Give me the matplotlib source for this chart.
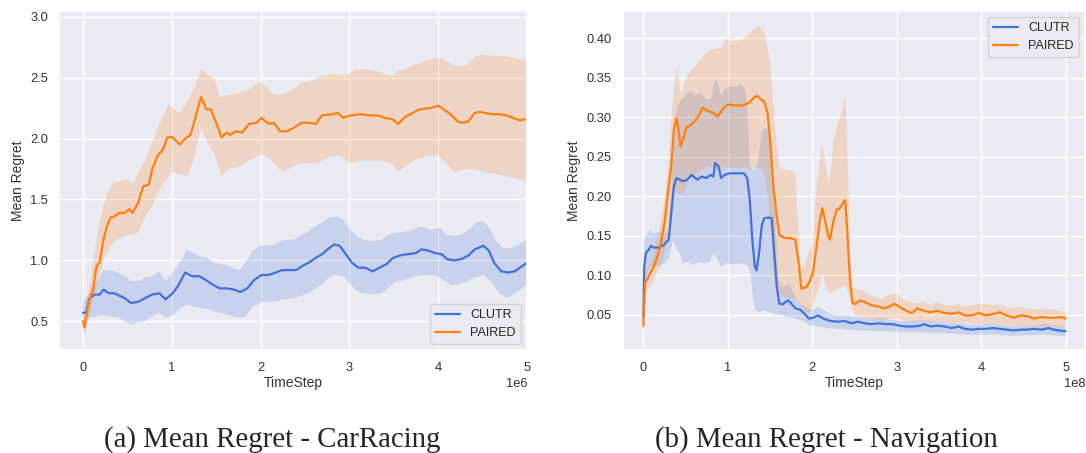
import matplotlib
matplotlib.use("Agg")
import matplotlib.pyplot as plt
import numpy as np
import seaborn as sns

# ---- (a) CarRacing, x in units of 1e6 ----
car_paired_x = [0, 0.016, 0.074, 0.113, 0.152, 0.19, 0.23, 0.27, 0.31, 0.35, 0.41, 0.47, 0.52, 0.56, 0.62, 0.68, 0.74, 0.78,
                0.84, 0.90, 0.95, 1.01, 1.09, 1.15, 1.21, 1.25, 1.29, 1.33, 1.39, 1.44, 1.50, 1.56, 1.62, 1.66, 1.72, 1.79,
                1.87, 1.95, 2.01, 2.09, 2.15, 2.22, 2.30, 2.38, 2.46, 2.54, 2.62, 2.69, 2.81, 2.87, 2.93, 3.01, 3.12, 3.24,
                3.32, 3.40, 3.48, 3.55, 3.63, 3.71, 3.79, 3.91, 4.00, 4.06, 4.14, 4.22, 4.28, 4.34, 4.41, 4.47, 4.53, 4.61,
                4.69, 4.77, 4.84, 4.92, 5.0]
car_paired_mean = [0.50, 0.45, 0.68, 0.76, 0.95, 0.99, 1.17, 1.28, 1.35, 1.36, 1.39, 1.39, 1.42, 1.39, 1.47, 1.61, 1.62, 1.75,
                   1.86, 1.91, 2.01, 2.01, 1.95, 2.00, 2.03, 2.13, 2.24, 2.34, 2.24, 2.24, 2.13, 2.01, 2.05, 2.03, 2.06, 2.05,
                   2.12, 2.13, 2.17, 2.12, 2.13, 2.06, 2.06, 2.09, 2.13, 2.13, 2.12, 2.19, 2.20, 2.21, 2.17, 2.19, 2.20, 2.19,
                   2.19, 2.17, 2.16, 2.12, 2.18, 2.21, 2.24, 2.25, 2.27, 2.24, 2.20, 2.14, 2.13, 2.14, 2.21, 2.22, 2.21, 2.20,
                   2.20, 2.19, 2.17, 2.15, 2.16]
car_paired_hi_x = [0, 0.074, 0.152, 0.23, 0.29, 0.35, 0.43, 0.50, 0.56, 0.62, 0.70, 0.78, 0.86, 0.97, 1.03, 1.09, 1.19, 1.27,
                   1.33, 1.40, 1.48, 1.54, 1.60, 1.68, 1.76, 1.83, 1.91, 1.99, 2.07, 2.15, 2.22, 2.30, 2.38, 2.46, 2.54, 2.62,
                   2.69, 2.77, 2.85, 2.93, 3.01, 3.08, 3.16, 3.28, 3.40, 3.48, 3.55, 3.63, 3.71, 3.79, 3.91, 4.00, 4.08, 4.18,
                   4.26, 4.34, 4.41, 4.49, 4.57, 4.69, 4.80, 4.92, 5.0]
car_paired_hi = [0.55, 0.79, 1.17, 1.45, 1.58, 1.64, 1.65, 1.67, 1.62, 1.72, 1.83, 1.97, 2.12, 2.28, 2.24, 2.21, 2.32, 2.45,
                 2.57, 2.53, 2.49, 2.34, 2.35, 2.36, 2.38, 2.39, 2.42, 2.47, 2.42, 2.36, 2.36, 2.38, 2.41, 2.46, 2.47, 2.49,
                 2.51, 2.53, 2.53, 2.51, 2.54, 2.57, 2.57, 2.56, 2.53, 2.51, 2.56, 2.57, 2.60, 2.62, 2.65, 2.67, 2.64, 2.60,
                 2.59, 2.61, 2.67, 2.69, 2.68, 2.68, 2.67, 2.65, 2.65]
car_paired_lo_x = [0, 0.016, 0.074, 0.152, 0.23, 0.31, 0.39, 0.47, 0.56, 0.62, 0.70, 0.78, 0.86, 0.93, 1.01, 1.09, 1.17, 1.25,
                   1.33, 1.40, 1.48, 1.56, 1.64, 1.76, 1.87, 2.01, 2.11, 2.19, 2.26, 2.34, 2.42, 2.50, 2.62, 2.69, 2.81, 2.91,
                   3.01, 3.12, 3.24, 3.36, 3.48, 3.55, 3.63, 3.75, 3.87, 4.00, 4.08, 4.18, 4.30, 4.41, 4.53, 4.65, 4.77, 4.88,
                   5.0]
car_paired_lo = [0.45, 0.38, 0.54, 0.79, 1.00, 1.12, 1.17, 1.20, 1.21, 1.23, 1.36, 1.45, 1.58, 1.65, 1.73, 1.71, 1.69, 1.83,
                 2.09, 1.97, 1.88, 1.69, 1.75, 1.77, 1.82, 1.87, 1.83, 1.76, 1.73, 1.76, 1.79, 1.80, 1.79, 1.82, 1.86, 1.85,
                 1.80, 1.82, 1.82, 1.82, 1.79, 1.73, 1.77, 1.83, 1.86, 1.86, 1.80, 1.72, 1.75, 1.75, 1.72, 1.71, 1.69, 1.67,
                 1.65]

car_clutr_x = [0, 0.035, 0.074, 0.133, 0.19, 0.23, 0.29, 0.35, 0.41, 0.47, 0.54, 0.62, 0.70, 0.78, 0.86, 0.93, 1.01, 1.07,
               1.15, 1.23, 1.31, 1.38, 1.46, 1.54, 1.62, 1.70, 1.77, 1.85, 1.93, 2.01, 2.09, 2.17, 2.24, 2.32, 2.40, 2.46,
               2.54, 2.62, 2.69, 2.77, 2.83, 2.89, 2.95, 3.03, 3.10, 3.18, 3.26, 3.34, 3.42, 3.49, 3.57, 3.65, 3.75, 3.81,
               3.89, 3.96, 4.04, 4.10, 4.18, 4.26, 4.34, 4.41, 4.51, 4.57, 4.63, 4.71, 4.79, 4.86, 4.92, 5.0]
car_clutr_mean = [0.57, 0.57, 0.69, 0.72, 0.72, 0.76, 0.73, 0.73, 0.71, 0.69, 0.65, 0.66, 0.69, 0.72, 0.73, 0.68, 0.73, 0.79,
                  0.90, 0.87, 0.87, 0.84, 0.80, 0.77, 0.77, 0.76, 0.74, 0.77, 0.84, 0.88, 0.88, 0.90, 0.92, 0.92, 0.92, 0.95,
                  0.98, 1.02, 1.05, 1.10, 1.13, 1.12, 1.06, 0.98, 0.94, 0.94, 0.91, 0.94, 0.97, 1.02, 1.04, 1.05, 1.06, 1.09,
                  1.08, 1.06, 1.05, 1.01, 1.00, 1.01, 1.04, 1.09, 1.12, 1.08, 0.98, 0.91, 0.90, 0.91, 0.94, 0.98]
car_clutr_hi_x = [0, 0.074, 0.152, 0.23, 0.31, 0.39, 0.47, 0.54, 0.62, 0.70, 0.78, 0.86, 0.93, 1.01, 1.09, 1.17, 1.25, 1.33,
                  1.40, 1.48, 1.56, 1.64, 1.76, 1.83, 1.91, 1.99, 2.07, 2.15, 2.22, 2.30, 2.38, 2.46, 2.54, 2.62, 2.69, 2.77,
                  2.85, 2.93, 3.01, 3.08, 3.16, 3.26, 3.36, 3.44, 3.51, 3.59, 3.71, 3.81, 3.91, 4.02, 4.10, 4.18, 4.26, 4.34,
                  4.43, 4.51, 4.59, 4.65, 4.73, 4.80, 4.88, 5.0]
car_clutr_hi = [0.66, 0.73, 0.82, 0.92, 0.92, 0.90, 0.87, 0.83, 0.83, 0.86, 0.87, 0.91, 0.83, 0.90, 0.98, 1.09, 1.06, 1.03,
                1.02, 0.98, 0.97, 0.95, 0.92, 0.98, 1.08, 1.12, 1.12, 1.13, 1.16, 1.17, 1.17, 1.21, 1.24, 1.28, 1.31, 1.35,
                1.36, 1.34, 1.25, 1.20, 1.17, 1.16, 1.17, 1.21, 1.23, 1.23, 1.25, 1.28, 1.25, 1.27, 1.21, 1.20, 1.21, 1.25,
                1.31, 1.32, 1.25, 1.16, 1.10, 1.10, 1.12, 1.17]
car_clutr_lo_x = [0, 0.074, 0.152, 0.23, 0.31, 0.39, 0.47, 0.54, 0.62, 0.70, 0.78, 0.86, 0.93, 1.01, 1.09, 1.17, 1.25, 1.33,
                  1.40, 1.48, 1.56, 1.64, 1.76, 1.83, 1.91, 2.03, 2.15, 2.26, 2.38, 2.46, 2.54, 2.62, 2.69, 2.77, 2.85, 2.93,
                  3.01, 3.08, 3.16, 3.26, 3.36, 3.44, 3.51, 3.63, 3.75, 3.87, 3.98, 4.06, 4.14, 4.22, 4.30, 4.41, 4.51, 4.59,
                  4.69, 4.77, 4.84, 4.92, 5.0]
car_clutr_lo = [0.51, 0.53, 0.54, 0.55, 0.54, 0.53, 0.50, 0.47, 0.49, 0.50, 0.54, 0.57, 0.53, 0.55, 0.60, 0.64, 0.62, 0.61,
                0.60, 0.58, 0.57, 0.55, 0.53, 0.54, 0.62, 0.66, 0.66, 0.68, 0.69, 0.71, 0.73, 0.77, 0.80, 0.86, 0.88, 0.87,
                0.80, 0.75, 0.73, 0.72, 0.73, 0.77, 0.82, 0.84, 0.87, 0.88, 0.87, 0.84, 0.80, 0.80, 0.82, 0.86, 0.88, 0.83,
                0.73, 0.69, 0.72, 0.76, 0.80]

# ---- (b) Navigation, x in units of 1e8 ----
nav_paired_x = [0, 0.02, 0.06, 0.10, 0.14, 0.20, 0.25, 0.29, 0.33, 0.36, 0.39, 0.41, 0.44, 0.47, 0.51, 0.57, 0.64, 0.70, 0.76,
                0.82, 0.88, 0.94, 1.00, 1.09, 1.17, 1.25, 1.31, 1.35, 1.39, 1.43, 1.47, 1.50, 1.54, 1.58, 1.61, 1.64, 1.68,
                1.74, 1.80, 1.84, 1.87, 1.93, 1.97, 2.01, 2.05, 2.09, 2.12, 2.15, 2.19, 2.21, 2.25, 2.29, 2.33, 2.36, 2.39,
                2.42, 2.45, 2.48, 2.52, 2.56, 2.62, 2.70, 2.79, 2.85, 2.91, 2.97, 3.03, 3.11, 3.18, 3.24, 3.32, 3.40, 3.48,
                3.57, 3.65, 3.73, 3.81, 3.89, 3.98, 4.06, 4.14, 4.22, 4.30, 4.39, 4.47, 4.55, 4.63, 4.71, 4.80, 4.88, 4.94,
                5.0]
nav_paired_mean = [0.036, 0.090, 0.098, 0.106, 0.115, 0.136, 0.166, 0.204, 0.238, 0.284, 0.299, 0.289, 0.263, 0.272, 0.287,
                   0.291, 0.299, 0.312, 0.308, 0.306, 0.301, 0.310, 0.316, 0.315, 0.315, 0.318, 0.325, 0.327, 0.323, 0.320,
                   0.306, 0.272, 0.212, 0.174, 0.151, 0.149, 0.147, 0.147, 0.145, 0.115, 0.083, 0.085, 0.092, 0.104, 0.136,
                   0.170, 0.185, 0.170, 0.149, 0.145, 0.168, 0.183, 0.185, 0.191, 0.195, 0.145, 0.089, 0.064, 0.064, 0.068,
                   0.066, 0.062, 0.060, 0.058, 0.060, 0.064, 0.060, 0.055, 0.052, 0.058, 0.055, 0.053, 0.055, 0.052, 0.051,
                   0.053, 0.049, 0.049, 0.052, 0.049, 0.051, 0.053, 0.049, 0.046, 0.049, 0.048, 0.045, 0.047, 0.046, 0.046,
                   0.047, 0.045]
nav_paired_hi_x = [0, 0.02, 0.06, 0.12, 0.18, 0.25, 0.30, 0.34, 0.37, 0.40, 0.42, 0.45, 0.49, 0.53, 0.61, 0.68, 0.74, 0.80,
                   0.86, 0.92, 0.98, 1.05, 1.11, 1.17, 1.23, 1.29, 1.35, 1.40, 1.45, 1.50, 1.54, 1.58, 1.61, 1.64, 1.72, 1.80,
                   1.82, 1.86, 1.91, 1.95, 2.00, 2.05, 2.09, 2.12, 2.15, 2.19, 2.22, 2.25, 2.30, 2.36, 2.39, 2.41, 2.45, 2.48,
                   2.52, 2.58, 2.66, 2.75, 2.83, 2.91, 2.99, 3.07, 3.16, 3.24, 3.32, 3.40, 3.48, 3.57, 3.65, 3.73, 3.81, 3.89,
                   3.98, 4.06, 4.14, 4.22, 4.30, 4.39, 4.47, 4.55, 4.63, 4.71, 4.80, 4.88, 5.0]
nav_paired_hi = [0.043, 0.102, 0.111, 0.123, 0.153, 0.195, 0.246, 0.310, 0.344, 0.365, 0.348, 0.325, 0.344, 0.354, 0.365,
                 0.373, 0.382, 0.386, 0.387, 0.388, 0.399, 0.396, 0.397, 0.398, 0.403, 0.410, 0.416, 0.412, 0.401, 0.369,
                 0.314, 0.263, 0.238, 0.234, 0.233, 0.230, 0.187, 0.111, 0.111, 0.128, 0.136, 0.212, 0.246, 0.267, 0.246,
                 0.217, 0.234, 0.267, 0.293, 0.310, 0.327, 0.280, 0.128, 0.085, 0.083, 0.081, 0.077, 0.072, 0.070, 0.075,
                 0.078, 0.070, 0.066, 0.064, 0.066, 0.062, 0.066, 0.062, 0.062, 0.063, 0.061, 0.062, 0.064, 0.063, 0.062,
                 0.062, 0.060, 0.058, 0.060, 0.058, 0.056, 0.058, 0.058, 0.056, 0.053]
nav_paired_lo_x = [0, 0.02, 0.08, 0.14, 0.20, 0.25, 0.30, 0.34, 0.37, 0.41, 0.45, 0.49, 0.53, 0.61, 0.70, 0.76, 0.82, 0.88,
                   0.94, 1.00, 1.11, 1.21, 1.27, 1.33, 1.39, 1.43, 1.48, 1.52, 1.56, 1.60, 1.68, 1.76, 1.82, 1.86, 1.91, 1.97,
                   2.03, 2.09, 2.12, 2.16, 2.21, 2.27, 2.34, 2.39, 2.42, 2.46, 2.50, 2.58, 2.66, 2.75, 2.83, 2.91, 2.99, 3.07,
                   3.20, 3.32, 3.44, 3.57, 3.69, 3.81, 3.93, 4.06, 4.18, 4.30, 4.43, 4.55, 4.67, 4.80, 4.92, 5.0]
nav_paired_lo = [0.024, 0.077, 0.085, 0.098, 0.111, 0.128, 0.153, 0.187, 0.208, 0.204, 0.202, 0.206, 0.221, 0.227, 0.234,
                 0.238, 0.236, 0.234, 0.238, 0.236, 0.236, 0.236, 0.234, 0.236, 0.236, 0.229, 0.195, 0.128, 0.085, 0.077,
                 0.072, 0.070, 0.068, 0.064, 0.053, 0.053, 0.068, 0.089, 0.102, 0.085, 0.077, 0.081, 0.085, 0.087, 0.081,
                 0.064, 0.049, 0.047, 0.045, 0.045, 0.043, 0.045, 0.045, 0.043, 0.041, 0.042, 0.041, 0.041, 0.039, 0.040,
                 0.038, 0.039, 0.038, 0.036, 0.036, 0.036, 0.035, 0.036, 0.035, 0.034]

nav_clutr_x = [0, 0.01, 0.03, 0.06, 0.09, 0.12, 0.18, 0.24, 0.27, 0.30, 0.33, 0.36, 0.39, 0.43, 0.47, 0.52, 0.57, 0.64, 0.69,
               0.74, 0.80, 0.83, 0.85, 0.89, 0.92, 0.96, 1.02, 1.11, 1.19, 1.23, 1.26, 1.29, 1.32, 1.34, 1.37, 1.40, 1.43,
               1.48, 1.52, 1.55, 1.58, 1.61, 1.65, 1.68, 1.72, 1.76, 1.80, 1.86, 1.91, 1.96, 2.01, 2.07, 2.13, 2.21, 2.30,
               2.38, 2.46, 2.54, 2.62, 2.70, 2.79, 2.87, 2.95, 3.03, 3.11, 3.20, 3.28, 3.32, 3.40, 3.48, 3.57, 3.65, 3.73,
               3.81, 3.89, 3.98, 4.06, 4.14, 4.22, 4.30, 4.39, 4.47, 4.55, 4.63, 4.71, 4.80, 4.86, 4.92, 5.0]
nav_clutr_mean = [0.047, 0.111, 0.128, 0.132, 0.137, 0.135, 0.135, 0.138, 0.142, 0.145, 0.178, 0.212, 0.223, 0.221, 0.219,
                  0.221, 0.227, 0.221, 0.225, 0.223, 0.227, 0.225, 0.242, 0.238, 0.223, 0.227, 0.229, 0.229, 0.229, 0.223,
                  0.195, 0.145, 0.111, 0.106, 0.128, 0.162, 0.172, 0.173, 0.172, 0.128, 0.085, 0.064, 0.063, 0.066, 0.068,
                  0.063, 0.058, 0.056, 0.051, 0.045, 0.046, 0.049, 0.045, 0.042, 0.041, 0.042, 0.039, 0.041, 0.039, 0.038,
                  0.039, 0.038, 0.038, 0.036, 0.035, 0.035, 0.036, 0.038, 0.035, 0.036, 0.035, 0.033, 0.035, 0.032, 0.031,
                  0.032, 0.032, 0.033, 0.032, 0.031, 0.030, 0.031, 0.031, 0.032, 0.031, 0.033, 0.031, 0.030, 0.029]
nav_clutr_hi_x = [0, 0.01, 0.04, 0.08, 0.12, 0.18, 0.25, 0.30, 0.33, 0.36, 0.39, 0.43, 0.49, 0.55, 0.61, 0.68, 0.74, 0.80,
                  0.85, 0.88, 0.92, 0.96, 1.02, 1.09, 1.15, 1.20, 1.23, 1.26, 1.29, 1.33, 1.36, 1.40, 1.45, 1.51, 1.54, 1.57,
                  1.60, 1.64, 1.68, 1.72, 1.76, 1.82, 1.89, 1.95, 2.01, 2.07, 2.13, 2.21, 2.30, 2.42, 2.54, 2.66, 2.79, 2.91,
                  3.03, 3.16, 3.28, 3.40, 3.52, 3.65, 3.77, 3.89, 4.02, 4.14, 4.26, 4.39, 4.51, 4.63, 4.75, 4.88, 5.0]
nav_clutr_hi = [0.051, 0.145, 0.153, 0.157, 0.153, 0.155, 0.153, 0.157, 0.212, 0.267, 0.310, 0.320, 0.327, 0.333, 0.329,
                0.331, 0.323, 0.323, 0.350, 0.344, 0.327, 0.335, 0.340, 0.338, 0.342, 0.338, 0.318, 0.238, 0.234, 0.234,
                0.246, 0.282, 0.287, 0.284, 0.217, 0.153, 0.094, 0.085, 0.087, 0.089, 0.081, 0.068, 0.062, 0.058, 0.056,
                0.060, 0.056, 0.051, 0.049, 0.049, 0.047, 0.045, 0.046, 0.044, 0.042, 0.042, 0.043, 0.042, 0.041, 0.039,
                0.039, 0.036, 0.038, 0.039, 0.036, 0.035, 0.036, 0.036, 0.038, 0.036, 0.035]
nav_clutr_lo_x = [0, 0.01, 0.06, 0.12, 0.18, 0.25, 0.31, 0.35, 0.39, 0.43, 0.47, 0.53, 0.59, 0.66, 0.72, 0.78, 0.84, 0.88,
                  0.92, 0.98, 1.07, 1.15, 1.23, 1.27, 1.30, 1.33, 1.37, 1.43, 1.50, 1.56, 1.64, 1.72, 1.80, 1.89, 1.97, 2.03,
                  2.09, 2.17, 2.30, 2.42, 2.54, 2.66, 2.79, 2.91, 3.03, 3.16, 3.28, 3.40, 3.52, 3.65, 3.77, 3.89, 4.02, 4.14,
                  4.26, 4.39, 4.51, 4.63, 4.75, 4.88, 5.0]
nav_clutr_lo = [0.043, 0.089, 0.108, 0.113, 0.111, 0.115, 0.123, 0.145, 0.134, 0.128, 0.115, 0.117, 0.113, 0.117, 0.115,
                0.117, 0.128, 0.119, 0.111, 0.115, 0.114, 0.115, 0.113, 0.102, 0.068, 0.056, 0.053, 0.055, 0.053, 0.051,
                0.049, 0.047, 0.045, 0.042, 0.036, 0.036, 0.035, 0.033, 0.032, 0.031, 0.030, 0.030, 0.029, 0.029, 0.028,
                0.028, 0.028, 0.027, 0.027, 0.026, 0.025, 0.024, 0.025, 0.025, 0.024, 0.023, 0.024, 0.024, 0.025, 0.024,
                0.022]

clutr_color = "#4272d7"
paired_color = "#ff7f0e"

sns.set_theme(style="darkgrid")
plt.rcParams["font.family"] = ["Liberation Sans", "DejaVu Sans"]

fig = plt.figure(figsize=(10.86, 4.53), dpi=100)
ax1 = fig.add_axes([0.0546, 0.2263, 0.4307, 0.7501])
ax2 = fig.add_axes([0.5734, 0.2263, 0.4257, 0.7501])


def band(ax, hx, hi, lx, lo, color):
    xs = np.concatenate([hx, lx[::-1]])
    ys = np.concatenate([hi, lo[::-1]])
    ax.fill(xs, ys, color=color, alpha=0.2, lw=0)


def panel(ax, scale, cx, cm, chx, chi, clx, clo, px, pm, phx, phi, plx, plo):
    s = lambda v: np.array(v) * scale
    band(ax, s(chx), np.array(chi), s(clx), np.array(clo), clutr_color)
    band(ax, s(phx), np.array(phi), s(plx), np.array(plo), paired_color)
    ax.plot(s(cx), cm, color=clutr_color, lw=1.6, label="CLUTR")
    ax.plot(s(px), pm, color=paired_color, lw=1.6, label="PAIRED")
    ax.set_xlabel("TimeStep", fontsize=10, color="#333333", labelpad=2)
    ax.set_ylabel("Mean Regret", fontsize=10, color="#333333")
    ax.tick_params(labelsize=9.3, length=0, pad=8, colors="#333333")
    ax.xaxis.get_offset_text().set_fontsize(9.3)


panel(ax1, 1e6, car_clutr_x, car_clutr_mean, car_clutr_hi_x, car_clutr_hi, car_clutr_lo_x, car_clutr_lo,
      car_paired_x, car_paired_mean, car_paired_hi_x, car_paired_hi, car_paired_lo_x, car_paired_lo)
ax1.set_xlim(-0.267e6, 5.0e6)
ax1.set_ylim(0.26, 3.05)
ax1.set_yticks([0.5, 1.0, 1.5, 2.0, 2.5, 3.0])
ax1.legend(loc="lower right", fontsize=9)

panel(ax2, 1e8, nav_clutr_x, nav_clutr_mean, nav_clutr_hi_x, nav_clutr_hi, nav_clutr_lo_x, nav_clutr_lo,
      nav_paired_x, nav_paired_mean, nav_paired_hi_x, nav_paired_hi, nav_paired_lo_x, nav_paired_lo)
ax2.set_xlim(-0.245e8, 5.23e8)
ax2.set_ylim(0.0046, 0.435)
ax2.set_yticks([0.05, 0.10, 0.15, 0.20, 0.25, 0.30, 0.35, 0.40])
ax2.yaxis.set_major_formatter(matplotlib.ticker.FormatStrFormatter("%.2f"))
ax2.legend(loc="upper right", fontsize=9)

fig.text(0.2505, 0.029, "(a) Mean Regret - CarRacing", ha="center", va="center",
         fontsize=20.8, family="Liberation Serif")
fig.text(0.7606, 0.029, "(b) Mean Regret - Navigation", ha="center", va="center",
         fontsize=20.8, family="Liberation Serif")

fig.savefig("out.png", dpi=100)
